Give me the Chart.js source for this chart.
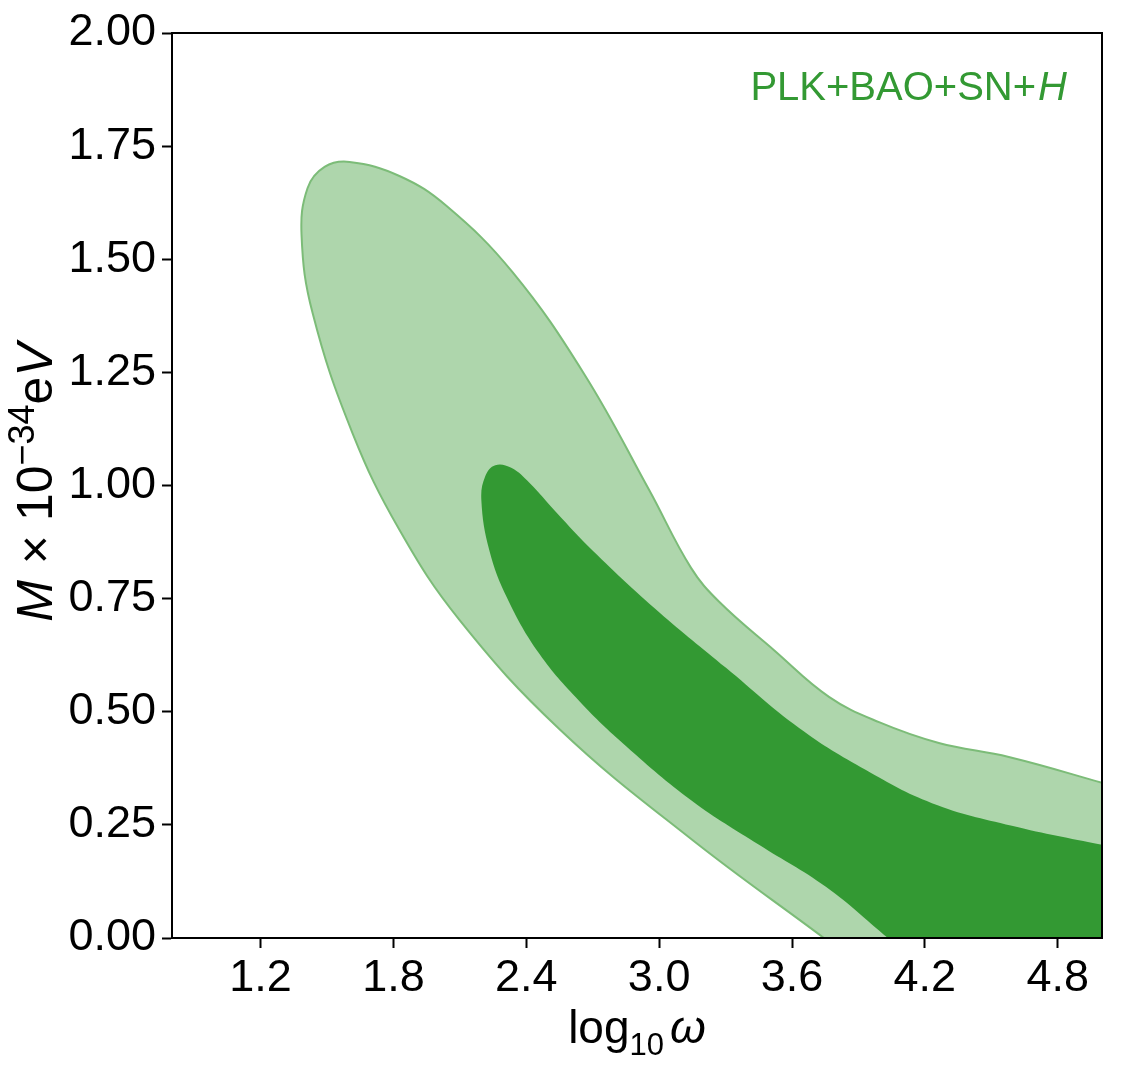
<!DOCTYPE html>
<html>
<head>
<meta charset="utf-8">
<script src="https://cdn.jsdelivr.net/npm/chart.js@4.4.1/dist/chart.umd.min.js"></script>
<style>
html,body{margin:0;padding:0;background:#fff;}
#wrap{width:1125px;height:1083px;position:relative;}
</style>
</head>
<body>
<div id="wrap"><canvas id="c"></canvas></div>
<script>
// ---- data ----
// 2-sigma (outer) contour boundary: log10(omega) vs M [1e-34 eV]
const outerX = [3.85, 3.744, 3.149, 2.549, 2.098, 1.827, 1.615, 1.435, 1.385, 1.412, 1.489, 1.602, 1.827, 2.039, 2.337, 2.662, 2.955, 3.144, 3.271, 3.519, 3.767, 3.993, 4.263, 4.579, 5.000, 5.12, 5.12];
const outerY = [-0.04, 0, 0.217, 0.462, 0.703, 0.902, 1.116, 1.381, 1.554, 1.657, 1.704, 1.715, 1.684, 1.618, 1.472, 1.246, 0.990, 0.818, 0.743, 0.636, 0.533, 0.477, 0.431, 0.400, 0.343, 0.325, -0.1];
// 1-sigma (inner) contour boundary
const innerX = [4.13, 4.033, 3.753, 3.451, 3.149, 2.851, 2.639, 2.459, 2.314, 2.233, 2.197, 2.215, 2.260, 2.332, 2.414, 2.535, 2.698, 3.000, 3.302, 3.632, 3.934, 4.232, 4.593, 5.000, 5.12, 5.12];
const innerY = [-0.04, 0, 0.113, 0.206, 0.303, 0.424, 0.524, 0.628, 0.751, 0.857, 0.968, 1.021, 1.045, 1.039, 1.006, 0.941, 0.857, 0.720, 0.597, 0.464, 0.371, 0.298, 0.248, 0.206, 0.196, -0.1];

const xTicks = [1.2, 1.8, 2.4, 3.0, 3.6, 4.2, 4.8];
const yTicks = [0, 0.25, 0.5, 0.75, 1.0, 1.25, 1.5, 1.75, 2.0];
const xMin = 0.8, xMax = 5.0, yMin = 0, yMax = 2.0;

const seriesLabel = 'PLK+BAO+SN+';
const seriesLabelItalic = 'H';
const xTitleMain = 'log', xTitleSub = '10', xTitleVar = 'ω';
const yTitleVar = 'M', yTitleTimes = ' × 10', yTitleExp = '−34', yTitleUnitE = 'e', yTitleUnitV = 'V';

// ---- styles ----
const DARK = '#339933';
const LIGHT = '#aed6ac';
const EDGE = '#7cbc78';
const FAM = '"Liberation Sans", Arial, sans-serif';

const toPts = (xs, ys) => xs.map((x, i) => ({x: x, y: ys[i]}));

function drawRuns(ctx, runs, x0, y0, align) {
  let total = 0;
  const widths = runs.map(r => {
    ctx.font = r.font;
    const w = ctx.measureText(r.text).width + (r.gap || 0);
    total += w;
    return w;
  });
  let x = align === 'center' ? x0 - total / 2 : (align === 'right' ? x0 - total : x0);
  ctx.textAlign = 'left';
  ctx.textBaseline = 'alphabetic';
  runs.forEach((r, i) => {
    ctx.font = r.font;
    ctx.fillText(r.text, x, y0 + (r.dy || 0));
    x += widths[i];
  });
}

const textPlugin = {
  id: 'mathText',
  afterDraw(chart) {
    const ctx = chart.ctx;
    const a = chart.chartArea;
    ctx.save();
    // frame
    ctx.strokeStyle = '#000';
    ctx.lineWidth = 2;
    ctx.strokeRect(a.left, a.top, a.right - a.left, a.bottom - a.top);
    // x title
    ctx.fillStyle = '#000';
    drawRuns(ctx, [
      {text: xTitleMain, font: '46px ' + FAM},
      {text: xTitleSub, font: '31px ' + FAM, dy: 12, gap: 6},
      {text: xTitleVar, font: 'italic 46px ' + FAM}
    ], (a.left + a.right) / 2, 1043, 'center');
    // y title
    ctx.save();
    ctx.translate(52, (a.top + a.bottom) / 2 - 3);
    ctx.rotate(-Math.PI / 2);
    drawRuns(ctx, [
      {text: yTitleVar, font: 'italic 50px ' + FAM, gap: 2},
      {text: yTitleTimes, font: '50px ' + FAM},
      {text: yTitleExp, font: '36px ' + FAM, dy: -18},
      {text: yTitleUnitE, font: '50px ' + FAM},
      {text: yTitleUnitV, font: 'italic 50px ' + FAM}
    ], 0, 0, 'center');
    ctx.restore();
    // series annotation
    ctx.fillStyle = DARK;
    drawRuns(ctx, [
      {text: seriesLabel, font: '40px ' + FAM, gap: 2},
      {text: seriesLabelItalic, font: 'italic 40px ' + FAM}
    ], a.right - 35, 100, 'right');
    ctx.restore();
  }
};

const tickFont = {family: FAM, size: 45};

new Chart(document.getElementById('c'), {
  type: 'scatter',
  data: {
    datasets: [
      {
        label: '68% region',
        data: toPts(innerX, innerY),
        showLine: true,
        fill: 'shape',
        backgroundColor: DARK,
        borderColor: DARK,
        borderWidth: 0,
        pointRadius: 0,
        tension: 0.4,
        order: 0,
        clip: 0
      },
      {
        label: '95% region',
        data: toPts(outerX, outerY),
        showLine: true,
        fill: 'shape',
        backgroundColor: LIGHT,
        borderColor: EDGE,
        borderWidth: 2,
        pointRadius: 0,
        tension: 0.4,
        order: 1,
        clip: 0
      }
    ]
  },
  options: {
    responsive: true,
    maintainAspectRatio: false,
    animation: false,
    layout: {padding: {left: 0, right: 23, top: 33, bottom: 0}},
    plugins: {
      legend: {display: false},
      tooltip: {enabled: false}
    },
    scales: {
      x: {
        type: 'linear',
        min: xMin, max: xMax,
        afterBuildTicks: s => { s.ticks = xTicks.map(v => ({value: v})); },
        afterFit: s => { s.height = 145; },
        ticks: {
          callback: v => Number(v).toFixed(1),
          font: tickFont, color: '#000', padding: 4,
          maxRotation: 0, autoSkip: false
        },
        grid: {display: true, drawOnChartArea: false, drawTicks: true, tickLength: 10, tickWidth: 2, tickColor: '#000'},
        border: {display: true, color: '#000', width: 2}
      },
      y: {
        type: 'linear',
        min: yMin, max: yMax,
        afterBuildTicks: s => { s.ticks = yTicks.map(v => ({value: v})); },
        afterFit: s => { s.width = 172; },
        ticks: {
          callback: v => Number(v).toFixed(2),
          font: tickFont, color: '#000', padding: 6,
          autoSkip: false
        },
        grid: {display: true, drawOnChartArea: false, drawTicks: true, tickLength: 10, tickWidth: 2, tickColor: '#000'},
        border: {display: true, color: '#000', width: 2}
      }
    }
  },
  plugins: [textPlugin]
});
</script>
</body>
</html>
